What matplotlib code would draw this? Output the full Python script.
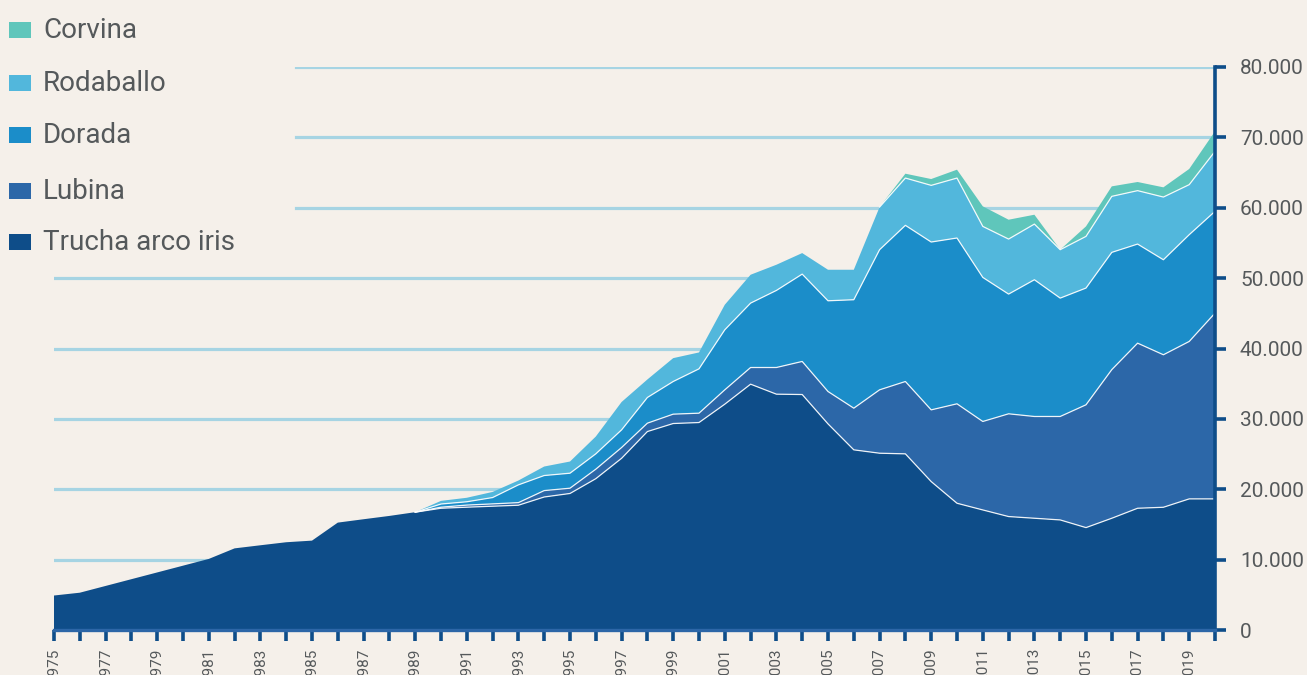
import numpy as np
import matplotlib.pyplot as plt
from matplotlib.patches import Rectangle
from matplotlib.ticker import FuncFormatter, MultipleLocator

plt.rcParams['font.family'] = ['Roboto', 'DejaVu Sans']

years = list(range(1975, 2021))

# toneladas por especie (lectura aproximada del grafico)
trucha = [4900, 5300, 6260, 7220, 8180, 9140, 10100, 11600, 12040, 12470,
          12700, 15260, 15740, 16210, 16740, 17300, 17450, 17590, 17730, 18900,
          19400, 21500, 24400, 28200, 29340, 29480, 32090, 34930, 33510, 33460,
          29290, 25600, 25120, 25030, 21090, 18010, 17060, 16120, 15880, 15640,
          14550, 15880, 17300, 17440, 18630, 18630]
# desde 1990
lubina = [150, 300, 330, 370, 910, 750, 1350, 1530, 1190, 1330,
          1330, 2040, 2370, 3790, 4700, 4600, 5920, 9010, 10280, 10190,
          14130, 12570, 14600, 14460, 14700, 17450, 21120, 23460, 21670, 22370, 26400]
dorada = [450, 470, 900, 2520, 2140, 2130, 2180, 2510, 3650, 4640,
          6300, 8530, 9150, 10950, 12410, 12890, 15410, 19910, 22190, 23850,
          23560, 20470, 17010, 19430, 16820, 16590, 16660, 14080, 13500, 15170, 14460]
rodaballo = [450, 570, 800, 620, 1280, 1660, 2460, 3960, 2560, 3320,
             2330, 3560, 4030, 3650, 2990, 4410, 4260, 6060, 6720, 8050,
             8520, 7250, 7820, 7910, 6880, 7340, 7960, 7590, 8910, 7110, 8530]
# desde 2008
corvina = [620, 900, 1190, 2850, 2750, 1330, 0, 1420, 1420, 1230, 1380, 2230, 2840]

labels = ['Trucha arco iris', 'Lubina', 'Dorada', 'Rodaballo', 'Corvina']
colors = ['#0e4d89', '#2c67a8', '#1b8dc9', '#52b7dc', '#5fc6bb']


def pad(values, first_year):
    return [0] * (first_year - 1975) + values


series = np.array([trucha, pad(lubina, 1990), pad(dorada, 1990),
                   pad(rodaballo, 1990), pad(corvina, 2008)], dtype=float)
cum = np.cumsum(series, axis=0)

bg = '#f5f0ea'
dark = '#0e4d89'
txt = '#55595b'
grid = '#a6d4e3'

fig = plt.figure(figsize=(13.07, 6.75), dpi=100, facecolor=bg)
ax = fig.add_axes([54 / 1307, 45 / 675, 1161 / 1307, 563 / 675])
ax.set_facecolor(bg)

# lineas de rejilla (las de arriba quedan cortadas por la leyenda)
for v in range(10000, 80001, 10000):
    xmin = 0 if v <= 50000 else (296 - 54) / 1161
    ax.axhline(v, xmin=xmin, xmax=1, color=grid, lw=2.3, zorder=1)

ax.stackplot(years, series, colors=colors, linewidth=0, zorder=2)

i89 = years.index(1989)
for k in range(3):
    ax.plot(years[i89:], cum[k][i89:], color='white', lw=0.9, alpha=0.9, zorder=3)
i07 = years.index(2007)
ax.plot(years[i07:], cum[3][i07:], color='white', lw=0.9, alpha=0.9, zorder=3)

ax.set_xlim(1975, 2020)
ax.set_ylim(0, 80000)

for s in ['top', 'left']:
    ax.spines[s].set_visible(False)
ax.spines['right'].set_color(dark)
ax.spines['right'].set_linewidth(2.6)
ax.spines['bottom'].set_color('#2c66a7')
ax.spines['bottom'].set_linewidth(2.4)
ax.spines['right'].set_zorder(4)
ax.spines['bottom'].set_zorder(4)

ax.yaxis.tick_right()
ax.set_yticks(range(0, 80001, 10000))
ax.yaxis.set_major_formatter(FuncFormatter(lambda v, p: f'{v:,.0f}'.replace(',', '.')))
ax.tick_params(axis='y', length=8, width=2.6, color=dark, labelsize=15,
               labelcolor=txt, pad=10)

ax.xaxis.set_major_locator(MultipleLocator(2, offset=1))
ax.xaxis.set_minor_locator(MultipleLocator(1))
ax.xaxis.set_major_formatter(FuncFormatter(lambda v, p: f'{int(round(v))}'))
ax.tick_params(axis='x', which='both', length=8, width=2.6, color=dark,
               direction='out')
ax.tick_params(axis='x', which='major', labelsize=11, labelcolor=txt,
               labelrotation=90, pad=5)

# leyenda
leg_labels = ['Corvina', 'Rodaballo', 'Dorada', 'Lubina', 'Trucha arco iris']
leg_colors = ['#5fc6bb', '#52b7dc', '#1b8dc9', '#2c67a8', '#0e4d89']
leg_base = [37.5, 91, 143, 199, 249.5]
for lab, col, yb in zip(leg_labels, leg_colors, leg_base):
    fig.add_artist(Rectangle((9 / 1307, 1 - yb / 675), 22 / 1307, 16 / 675,
                             transform=fig.transFigure, color=col, lw=0))
    fig.text(43 / 1307, 1 - yb / 675, lab, fontsize=20, color=txt,
             ha='left', va='baseline')

fig.savefig('out.png', dpi=100, facecolor=bg)
